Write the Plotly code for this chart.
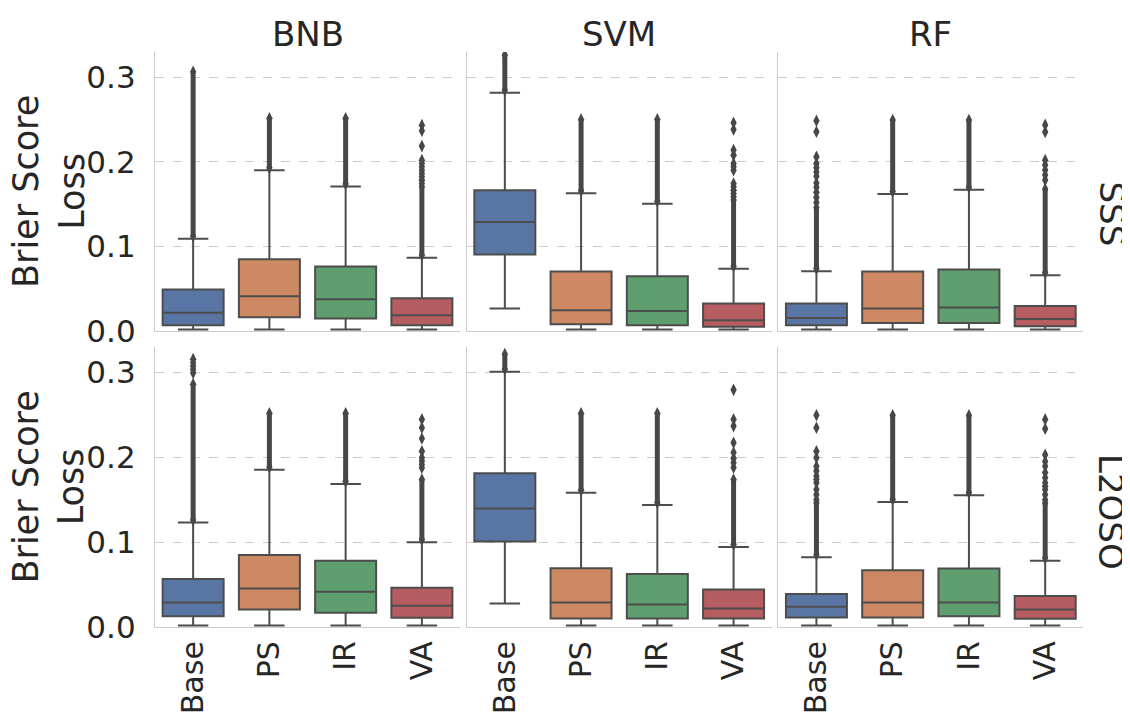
import plotly.graph_objects as go

# ---------------- data ----------------
categories = ["Base", "PS", "IR", "VA"]
classifiers = ["BNB", "SVM", "RF"]
schemes = ["SSS", "L2OSO"]
box_colors = ["#5875a4", "#cc8963", "#5f9e6e", "#b55d60"]

# SSS row: one list of 4 values (Base, PS, IR, VA) per classifier
q1_sss = [[0.0069, 0.0163, 0.0148, 0.0069], [0.0905, 0.0080, 0.0069, 0.0049], [0.0069, 0.0096, 0.0096, 0.0057]]
med_sss = [[0.0215, 0.0412, 0.0376, 0.0187], [0.1290, 0.0246, 0.0238, 0.0128], [0.0155, 0.0266, 0.0278, 0.0143]]
q3_sss = [[0.0490, 0.0850, 0.0763, 0.0388], [0.1666, 0.0704, 0.0649, 0.0325], [0.0325, 0.0704, 0.0728, 0.0297]]
upper_sss = [[0.1090, 0.1900, 0.1710, 0.0866], [0.2818, 0.1630, 0.1504, 0.0735], [0.0708, 0.1620, 0.1670, 0.0660]]
lower_sss = [[0.0018, 0.0018, 0.0018, 0.0018], [0.0266, 0.0018, 0.0018, 0.0018], [0.0018, 0.0018, 0.0018, 0.0018]]
# dense stacks of outliers: from just above the upper whisker up to this value
dense_top_sss = [[0.3067, 0.2515, 0.2515, 0.1706], [0.3264, 0.2503, 0.2503, 0.1548], [0.1460, 0.2495, 0.2495, 0.1680]]
sparse_sss = [
    [[], [], [],
     [0.1745, 0.1784, 0.1824, 0.1863, 0.1902, 0.1942, 0.1982, 0.2021, 0.2187, 0.2368, 0.2435]],
    [[], [], [],
     [0.1587, 0.1626, 0.1666, 0.1705, 0.1745, 0.1902, 0.1942, 0.1982, 0.2080, 0.2140, 0.2384, 0.2463]],
    [[0.1520, 0.1580, 0.1640, 0.1700, 0.1750, 0.1830, 0.1880, 0.1930, 0.1980, 0.2060, 0.2357, 0.2487],
     [], [],
     [0.1785, 0.1844, 0.1903, 0.1962, 0.2021, 0.2355, 0.2438]],
]

# L2OSO row
q1_l2oso = [[0.0128, 0.0207, 0.0167, 0.0108], [0.1007, 0.0100, 0.0100, 0.0100], [0.0112, 0.0112, 0.0128, 0.0096]]
med_l2oso = [[0.0290, 0.0455, 0.0416, 0.0250], [0.1398, 0.0290, 0.0266, 0.0219], [0.0238, 0.0290, 0.0290, 0.0207]]
q3_l2oso = [[0.0566, 0.0850, 0.0782, 0.0463], [0.1812, 0.0692, 0.0625, 0.0443], [0.0388, 0.0668, 0.0688, 0.0364]]
upper_l2oso = [[0.1232, 0.1852, 0.1686, 0.1000], [0.3007, 0.1583, 0.1438, 0.0944], [0.0822, 0.1473, 0.1552, 0.0782]]
lower_l2oso = [[0.0018, 0.0018, 0.0018, 0.0018], [0.0278, 0.0018, 0.0018, 0.0018], [0.0018, 0.0018, 0.0018, 0.0018]]
dense_top_l2oso = [[0.2862, 0.2518, 0.2518, 0.1737], [0.3217, 0.2518, 0.2518, 0.1737], [0.1460, 0.2495, 0.2495, 0.1460]]
sparse_l2oso = [
    [[0.2995, 0.3035, 0.3075, 0.3115, 0.3157], [], [],
     [0.1876, 0.1915, 0.1955, 0.1994, 0.2070, 0.2222, 0.2349, 0.2447]],
    [[], [], [],
     [0.1880, 0.1935, 0.1990, 0.2057, 0.2172, 0.2368, 0.2447, 0.2795]],
    [[0.1500, 0.1560, 0.1620, 0.1700, 0.1737, 0.1780, 0.1840, 0.1895, 0.1994, 0.2070, 0.2349, 0.2495],
     [], [],
     [0.1500, 0.1560, 0.1620, 0.1660, 0.1700, 0.1760, 0.1820, 0.1895, 0.1950, 0.2030, 0.2337, 0.2447]],
]

y_ticks = [0.0, 0.1, 0.2, 0.3]
y_tick_text = ["0.0", "0.1", "0.2", "0.3"]

rows_data = [
    (q1_sss, med_sss, q3_sss, upper_sss, lower_sss, dense_top_sss, sparse_sss),
    (q1_l2oso, med_l2oso, q3_l2oso, upper_l2oso, lower_l2oso, dense_top_l2oso, sparse_l2oso),
]

# ---------------- layout geometry (pixels) ----------------
# The page body has an 8px margin, so the figure is drawn 8px smaller and
# every window position is shifted by OFF.
OFF = 8
W, H = 1130 - OFF, 715 - OFF
col_px = [(155 - OFF, 460 - OFF), (466.7 - OFF, 771.7 - OFF), (778.3 - OFF, 1083.3 - OFF)]
row_px = [(52 - OFF, 331 - OFF), (347 - OFF, 627 - OFF)]  # top, bottom

TEXT = "#262626"
LINE = "#4d4d4d"
FLIER = "#474747"
SPINE = "#cccccc"
FONT = "DejaVu Sans"

fig = go.Figure()
layout = dict(
    width=W, height=H,
    margin=dict(l=0, r=0, t=0, b=0, autoexpand=False),
    paper_bgcolor="white", plot_bgcolor="white",
    showlegend=False,
    boxmode="overlay",
    font=dict(family=FONT, color=TEXT, size=30),
)

for r in range(2):
    q1, med, q3, up, lo, dtop, sparse = rows_data[r]
    for c in range(3):
        n = r * 3 + c + 1
        xa = "x" if n == 1 else f"x{n}"
        ya = "y" if n == 1 else f"y{n}"
        for k, cat in enumerate(categories):
            fig.add_trace(go.Box(
                x=[cat], q1=[q1[c][k]], median=[med[c][k]], q3=[q3[c][k]],
                lowerfence=[lo[c][k]], upperfence=[up[c][k]],
                width=0.8, whiskerwidth=0.5,
                fillcolor=box_colors[k],
                line=dict(color=LINE, width=2),
                boxpoints=False, xaxis=xa, yaxis=ya, hoverinfo="skip",
            ))
            # dense stack of outliers
            d_lo = up[c][k] + 0.003
            d_hi = dtop[c][k]
            fig.add_trace(go.Scatter(
                x=[cat, cat], y=[d_lo, d_hi], mode="lines+markers",
                line=dict(color=FLIER, width=5),
                marker=dict(symbol="diamond-tall", size=9, color=FLIER, line=dict(width=0)),
                xaxis=xa, yaxis=ya, hoverinfo="skip",
            ))
            pts = sparse[c][k]
            if pts:
                fig.add_trace(go.Scatter(
                    x=[cat] * len(pts), y=pts, mode="markers",
                    marker=dict(symbol="diamond-tall", size=9, color=FLIER, line=dict(width=0)),
                    xaxis=xa, yaxis=ya, hoverinfo="skip",
                ))
        x0, x1 = col_px[c]
        t, b = row_px[r]
        layout[f"xaxis{n if n > 1 else ''}"] = dict(
            domain=[x0 / W, x1 / W], anchor=ya,
            type="category", categoryorder="array", categoryarray=categories,
            range=[-0.5, 3.5], showgrid=False, zeroline=False,
            showline=True, linecolor=SPINE, linewidth=1.3, ticks="",
            showticklabels=(r == 1), tickangle=-90,
            tickfont=dict(size=30, color=TEXT, family=FONT),
            ticklabelstandoff=1,
        )
        layout[f"yaxis{n if n > 1 else ''}"] = dict(
            domain=[1 - b / H, 1 - t / H], anchor=xa,
            range=[0, 0.33], tickvals=y_ticks, ticktext=y_tick_text,
            showgrid=True, gridcolor=SPINE, griddash="dash", gridwidth=1,
            zeroline=False, showline=True, linecolor=SPINE, linewidth=1.3, ticks="",
            showticklabels=(c == 0),
            tickfont=dict(size=31, color=TEXT, family=FONT),
            ticklabelstandoff=12,
        )

annotations = []
col_title_y = 33.8 - OFF
for c, name in enumerate(classifiers):
    xc = (col_px[c][0] + col_px[c][1]) / 2
    annotations.append(dict(text=name, x=xc / W, y=1 - col_title_y / H, xref="paper", yref="paper",
                            xanchor="center", yanchor="middle", showarrow=False,
                            font=dict(size=34, color=TEXT, family=FONT)))
row_label_y = [214 - OFF, 511.5 - OFF]
for r, name in enumerate(schemes):
    annotations.append(dict(text=name, x=(1111.5 - OFF) / W, y=1 - row_label_y[r] / H, xref="paper", yref="paper",
                            xanchor="center", yanchor="middle", showarrow=False, textangle=90,
                            font=dict(size=34, color=TEXT, family=FONT)))
for r in range(2):
    yc = (row_px[r][0] + row_px[r][1]) / 2
    annotations.append(dict(text="Brier Score<br>Loss", x=(48.5 - OFF) / W, y=1 - yc / H, xref="paper", yref="paper",
                            xanchor="center", yanchor="middle", showarrow=False, textangle=-90,
                            font=dict(size=35, color=TEXT, family=FONT)))
layout["annotations"] = annotations

fig.update_layout(**layout)
fig.write_html("out.html")
